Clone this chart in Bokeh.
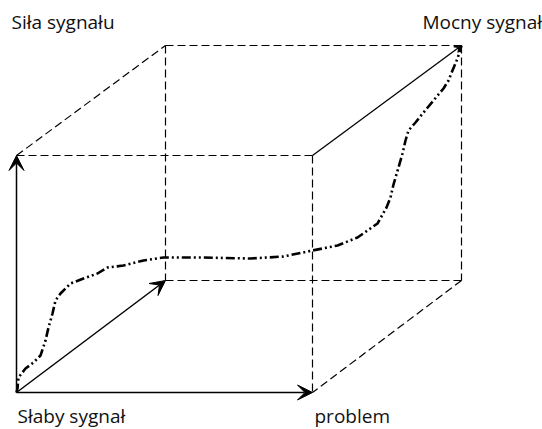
from bokeh.plotting import figure
from bokeh.models import Range1d, Arrow, VeeHead
from bokeh.core.properties import value
from bokeh.embed import file_html
from bokeh.resources import INLINE

# Cube corners (page pixel space)
origin = (16, 392)
front_tr = (312, 155)
front_tl = (16, 155)
front_br = (312, 392)
back_bl = (165, 280)
back_br = (461, 280)
back_tl = (165, 45)
back_tr = (461, 45)

# dashed edges
dashed_edges = [
    (front_tl, front_tr), (front_tr, front_br), (front_tl, back_tl),
    (back_tl, back_tr), (back_tr, back_br), (back_br, front_br),
    (back_bl, back_br), (back_tl, back_bl),
]
# solid arrows
arrow_edges = [(origin, front_tl), (origin, front_br), (origin, back_bl)]
solid_edges = [(front_tr, back_tr)]

# signal curve
curve_x = [16, 17, 18, 25, 33, 40, 45, 48, 52, 55, 60, 70, 83, 97, 107, 123, 143, 163,
           200, 250, 283, 312, 337, 357, 377, 386, 390, 393, 398, 402, 405, 408,
           415, 423, 433, 443, 448, 452, 457, 461]
curve_y = [392, 388, 377, 368, 362, 355, 340, 327, 313, 300, 293, 283, 278, 273, 267, 265, 260, 257,
           257, 258, 256, 250, 245, 237, 223, 207, 197, 184, 167, 153, 140, 130,
           122, 112, 100, 88, 80, 70, 58, 45]

labels = ["Siła sygnału", "Mocny sygnał", "Słaby sygnał", "problem"]
label_x = [11, 422, 17, 314]
label_y = [21, 21, 415, 415]

p = figure(width=542, height=429, output_backend="svg", toolbar_location=None,
           x_range=Range1d(0, 542), y_range=Range1d(429, 0), min_border=0)
p.axis.visible = False
p.grid.visible = False
p.outline_line_color = None

p.multi_line(xs=[[a[0], b[0]] for a, b in dashed_edges],
             ys=[[a[1], b[1]] for a, b in dashed_edges],
             line_color="black", line_width=1.2, line_dash="8 4")

for a, b in arrow_edges:
    p.add_layout(Arrow(end=VeeHead(size=15, fill_color="black", line_color="black"),
                       x_start=a[0], y_start=a[1], x_end=b[0], y_end=b[1],
                       line_color="black", line_width=1.5))
for a, b in solid_edges:
    p.add_layout(Arrow(end=VeeHead(size=7, fill_color="black", line_color="black"),
                       x_start=a[0], y_start=a[1], x_end=b[0], y_end=b[1],
                       line_color="black", line_width=1.3))

p.line(curve_x, curve_y, line_color="black", line_width=2.6, line_dash="9 3 2 3 2 3")

p.text(x=label_x, y=label_y, text=labels, text_font=value("Open Sans"),
       text_font_size="19px", text_baseline="middle", text_align="left",
       text_color="#111111")

open("out.html", "w").write(file_html(p, INLINE))
